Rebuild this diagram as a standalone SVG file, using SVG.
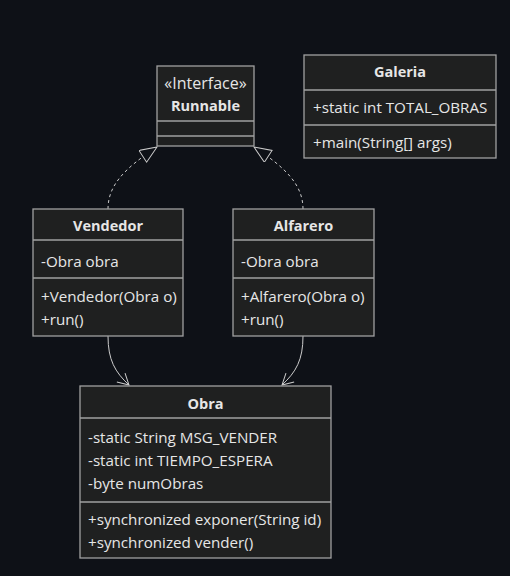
<svg xmlns="http://www.w3.org/2000/svg" width="510" height="576" viewBox="0 0 510 576">
<style>
.box{fill:#1f2020;stroke:#a0a0a0;stroke-width:1.3}
.div{stroke:#a0a0a0;stroke-width:1.3}
text{font-family:"Open Sans","Noto Sans",sans-serif;font-size:15.2px;fill:#e6e6e6}
.t{font-weight:bold;text-anchor:middle;font-size:14.5px}
.c{text-anchor:middle;font-size:16px}
.e{fill:none;stroke:#cccccc;stroke-width:1}
.d{stroke-dasharray:3 3}
</style>
<defs>
<marker id="tri" markerWidth="22" markerHeight="16" refX="19" refY="7" orient="auto" markerUnits="userSpaceOnUse">
<path d="M19,7 L2,0 L2,14 Z" fill="#0e1117" stroke="#cccccc" stroke-width="1"/>
</marker>
<marker id="open" markerWidth="14" markerHeight="14" refX="12" refY="7" orient="auto" markerUnits="userSpaceOnUse">
<path d="M1,1 L12,7 L1,13" fill="none" stroke="#cccccc" stroke-width="1"/>
</marker>
</defs>
<rect width="510" height="576" fill="#0e1117"/>
<g id="connectors">
<path class="e d" d="M108,209 C108,185 125,168 157,147" marker-end="url(#tri)"/>
<path class="e d" d="M303,209 C303,185 286,168 254,147" marker-end="url(#tri)"/>
<path class="e" d="M108,336 C108,360 115,372 129,385" marker-end="url(#open)"/>
<path class="e" d="M303,336 C303,360 296,372 282,385" marker-end="url(#open)"/>
</g>
<g id="Runnable">
<rect class="box" x="157" y="66" width="97" height="80"/>
<line class="div" x1="157" y1="121" x2="254" y2="121"/>
<line class="div" x1="157" y1="136" x2="254" y2="136"/>
<text class="c" x="205.5" y="89">«Interface»</text>
<text class="t" x="205.5" y="111">Runnable</text>
</g>
<g id="Galeria">
<rect class="box" x="304" y="55" width="192" height="103"/>
<line class="div" x1="304" y1="90" x2="496" y2="90"/>
<line class="div" x1="304" y1="125" x2="496" y2="125"/>
<text class="t" x="400" y="77">Galeria</text>
<text x="313" y="113">+static int TOTAL_OBRAS</text>
<text x="313" y="148">+main(String[] args)</text>
</g>
<g id="Vendedor">
<rect class="box" x="33" y="209" width="150" height="127"/>
<line class="div" x1="33" y1="240" x2="183" y2="240"/>
<line class="div" x1="33" y1="278" x2="183" y2="278"/>
<text class="t" x="108" y="231">Vendedor</text>
<text x="41" y="267">-Obra obra</text>
<text x="41" y="302">+Vendedor(Obra o)</text>
<text x="41" y="325">+run()</text>
</g>
<g id="Alfarero">
<rect class="box" x="233" y="209" width="141" height="127"/>
<line class="div" x1="233" y1="240" x2="374" y2="240"/>
<line class="div" x1="233" y1="278" x2="374" y2="278"/>
<text class="t" x="303.5" y="231">Alfarero</text>
<text x="241" y="267">-Obra obra</text>
<text x="241" y="302">+Alfarero(Obra o)</text>
<text x="241" y="325">+run()</text>
</g>
<g id="Obra">
<rect class="box" x="80" y="386" width="251" height="172"/>
<line class="div" x1="80" y1="418" x2="331" y2="418"/>
<line class="div" x1="80" y1="502" x2="331" y2="502"/>
<text class="t" x="205.5" y="409">Obra</text>
<text x="88" y="443">-static String MSG_VENDER</text>
<text x="88" y="466">-static int TIEMPO_ESPERA</text>
<text x="88" y="489">-byte numObras</text>
<text x="88" y="525">+synchronized exponer(String id)</text>
<text x="88" y="548">+synchronized vender()</text>
</g>
</svg>
